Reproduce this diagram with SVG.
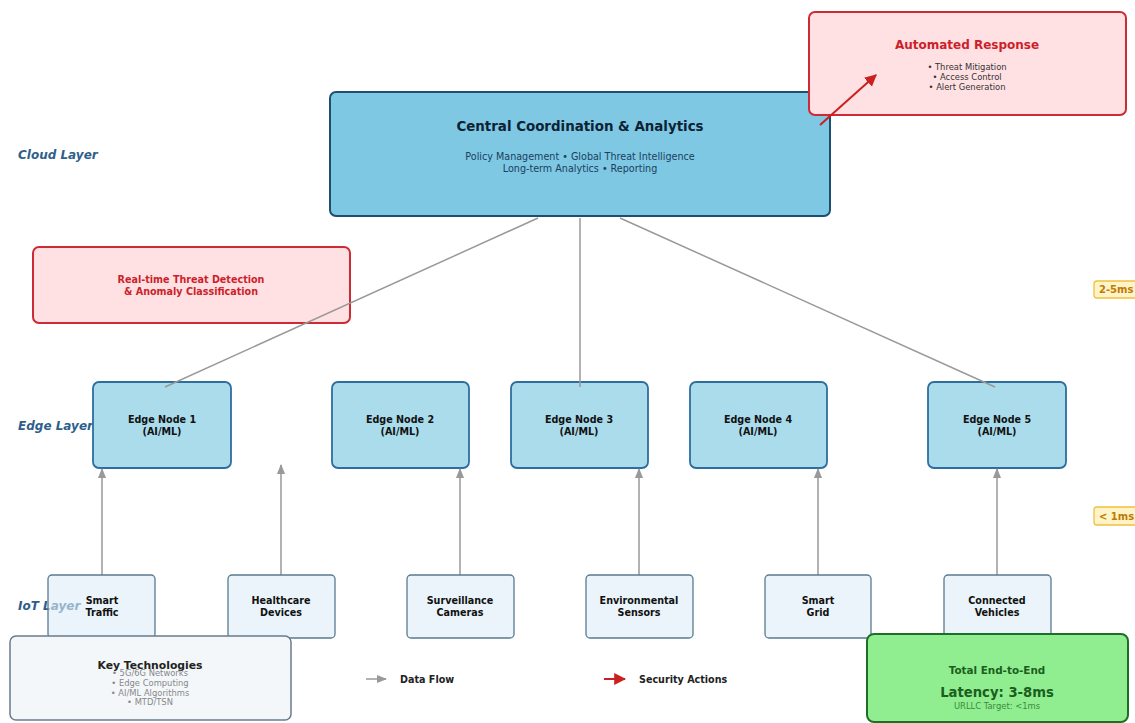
<svg xmlns="http://www.w3.org/2000/svg" width="1135" height="723" viewBox="0 0 1135 723">
<defs>
<style>
text{font-family:"DejaVu Sans","Liberation Sans",sans-serif;text-anchor:middle}
.b{font-weight:bold}
.lay{font-style:italic;font-weight:bold;font-size:12px;fill:#2e5e8c;text-anchor:start}
.edge rect{fill:#aadcec;stroke:#2e6e9e;stroke-width:1.8}
.edge text{font-size:9.6px;font-weight:bold;fill:#111}
.iot rect{fill:#dcedf6;fill-opacity:0.6;stroke:#5a7a90;stroke-width:1.3}
.iot text{font-size:9.6px;font-weight:bold;fill:#111}
.flow{stroke:#999;stroke-width:1.5;fill:none}
.badge rect{fill:#fff4c8;stroke:#f0c040;stroke-width:1.3}
.badge text{font-size:10px;font-weight:bold;fill:#c07a00;text-anchor:start}
</style>
<marker id="ag" viewBox="0 0 10 10" refX="9" refY="5" markerWidth="7" markerHeight="7" orient="auto-start-reverse"><path d="M0,1 L10,5 L0,9 z" fill="#999"/></marker>
<marker id="ar" viewBox="0 0 10 10" refX="9" refY="5" markerWidth="6" markerHeight="6" orient="auto-start-reverse"><path d="M0,0 L10,5 L0,10 z" fill="#cc1f1f"/></marker>
</defs>
<rect width="1135" height="723" fill="#fff"/>

<text class="lay" x="18" y="159">Cloud Layer</text>
<text class="lay" x="18" y="430">Edge Layer</text>
<text class="lay" x="18" y="610">IoT Layer</text>

<g id="central">
<rect x="330" y="92" width="500" height="124" rx="6" fill="#7ec8e3" stroke="#1f4f70" stroke-width="2"/>
<text x="580" y="131" class="b" font-size="13.4" fill="#0d2233">Central Coordination &amp; Analytics</text>
<text x="580" y="160" font-size="9.6" fill="#1a4060">Policy Management • Global Threat Intelligence</text>
<text x="580" y="172" font-size="9.6" fill="#1a4060">Long-term Analytics • Reporting</text>
</g>

<g id="response">
<rect x="809" y="12" width="317" height="103" rx="6" fill="#ffe1e3" stroke="#cc2a35" stroke-width="2"/>
<text x="967" y="49" class="b" font-size="12" fill="#cc1f2a">Automated Response</text>
<text x="967" y="70" font-size="8.4" fill="#333">• Threat Mitigation</text>
<text x="967" y="80" font-size="8.4" fill="#333">• Access Control</text>
<text x="967" y="90" font-size="8.4" fill="#333">• Alert Generation</text>
</g>
<line id="secarrow" x1="820" y1="125" x2="876" y2="75" stroke="#cc1f1f" stroke-width="2" marker-end="url(#ar)"/>

<g id="detection">
<rect x="33" y="247" width="317" height="76" rx="6" fill="#ffe1e3" stroke="#cc2a35" stroke-width="2"/>
<text x="191" y="283" class="b" font-size="9.6" fill="#cc1f2a">Real-time Threat Detection</text>
<text x="191" y="295" class="b" font-size="9.6" fill="#cc1f2a">&amp; Anomaly Classification</text>
</g>

<g id="badge1" class="badge"><rect x="1094" y="281" width="50" height="17" rx="3"/><text x="1099" y="293">2-5ms</text></g>
<g id="badge2" class="badge"><rect x="1094" y="507" width="50" height="18" rx="3"/><text x="1099" y="520">&lt; 1ms</text></g>

<g id="edge1" class="edge"><rect x="93" y="382" width="138" height="86" rx="6"/><text x="162" y="423">Edge Node 1</text><text x="162" y="435">(AI/ML)</text></g>
<g id="edge2" class="edge"><rect x="332" y="382" width="137" height="86" rx="6"/><text x="400" y="423">Edge Node 2</text><text x="400" y="435">(AI/ML)</text></g>
<g id="edge3" class="edge"><rect x="511" y="382" width="137" height="86" rx="6"/><text x="579" y="423">Edge Node 3</text><text x="579" y="435">(AI/ML)</text></g>
<g id="edge4" class="edge"><rect x="690" y="382" width="137" height="86" rx="6"/><text x="758" y="423">Edge Node 4</text><text x="758" y="435">(AI/ML)</text></g>
<g id="edge5" class="edge"><rect x="928" y="382" width="138" height="86" rx="6"/><text x="997" y="423">Edge Node 5</text><text x="997" y="435">(AI/ML)</text></g>

<g id="connectors">
<line class="flow" x1="538" y1="218" x2="165" y2="387"/>
<line class="flow" x1="580" y1="218" x2="580" y2="387"/>
<line class="flow" x1="620" y1="218" x2="995" y2="387"/>
<line class="flow" x1="102" y1="575" x2="102" y2="469" marker-end="url(#ag)"/>
<line class="flow" x1="281" y1="575" x2="281" y2="465" marker-end="url(#ag)"/>
<line class="flow" x1="460" y1="575" x2="460" y2="469" marker-end="url(#ag)"/>
<line class="flow" x1="639" y1="575" x2="639" y2="469" marker-end="url(#ag)"/>
<line class="flow" x1="818" y1="575" x2="818" y2="469" marker-end="url(#ag)"/>
<line class="flow" x1="997" y1="575" x2="997" y2="469" marker-end="url(#ag)"/>
</g>

<g id="iot1" class="iot"><rect x="48" y="575" width="107" height="63" rx="4"/><text x="102" y="604">Smart</text><text x="102" y="616">Traffic</text></g>
<g id="iot2" class="iot"><rect x="228" y="575" width="107" height="63" rx="4"/><text x="281" y="604">Healthcare</text><text x="281" y="616">Devices</text></g>
<g id="iot3" class="iot"><rect x="407" y="575" width="107" height="63" rx="4"/><text x="460" y="604">Surveillance</text><text x="460" y="616">Cameras</text></g>
<g id="iot4" class="iot"><rect x="586" y="575" width="107" height="63" rx="4"/><text x="639" y="604">Environmental</text><text x="639" y="616">Sensors</text></g>
<g id="iot5" class="iot"><rect x="765" y="575" width="106" height="63" rx="4"/><text x="818" y="604">Smart</text><text x="818" y="616">Grid</text></g>
<g id="iot6" class="iot"><rect x="944" y="575" width="107" height="63" rx="4"/><text x="997" y="604">Connected</text><text x="997" y="616">Vehicles</text></g>

<g id="keytech">
<rect x="10" y="636" width="281" height="84" rx="6" fill="#f3f7fa" stroke="#6b7b8b" stroke-width="1.5"/>
<text x="150" y="669" class="b" font-size="10.8" fill="#222">Key Technologies</text>
<text x="150" y="676" font-size="8.4" fill="#888">• 5G/6G Networks</text>
<text x="150" y="686" font-size="8.4" fill="#888">• Edge Computing</text>
<text x="150" y="696" font-size="8.4" fill="#888">• AI/ML Algorithms</text>
<text x="150" y="705" font-size="8.4" fill="#888">• MTD/TSN</text>
</g>

<g id="legend">
<line x1="366" y1="679" x2="386" y2="679" stroke="#999" stroke-width="1.5" marker-end="url(#ag)"/>
<text x="400" y="682.5" class="b" font-size="9.6" fill="#222" style="text-anchor:start">Data Flow</text>
<line x1="604" y1="679" x2="625" y2="679" stroke="#cc1f1f" stroke-width="2" marker-end="url(#ar)"/>
<text x="639" y="682.5" class="b" font-size="9.6" fill="#222" style="text-anchor:start">Security Actions</text>
</g>

<g id="latency">
<rect x="867" y="634" width="261" height="88" rx="7" fill="#90ee90" stroke="#1f6e25" stroke-width="2"/>
<text x="997" y="674" class="b" font-size="10.4" fill="#1a5e20">Total End-to-End</text>
<text x="997" y="697" class="b" font-size="13.2" fill="#1a5e20">Latency: 3-8ms</text>
<text x="997" y="709" font-size="8.4" fill="#3a8a40">URLLC Target: &lt;1ms</text>
</g>
</svg>
